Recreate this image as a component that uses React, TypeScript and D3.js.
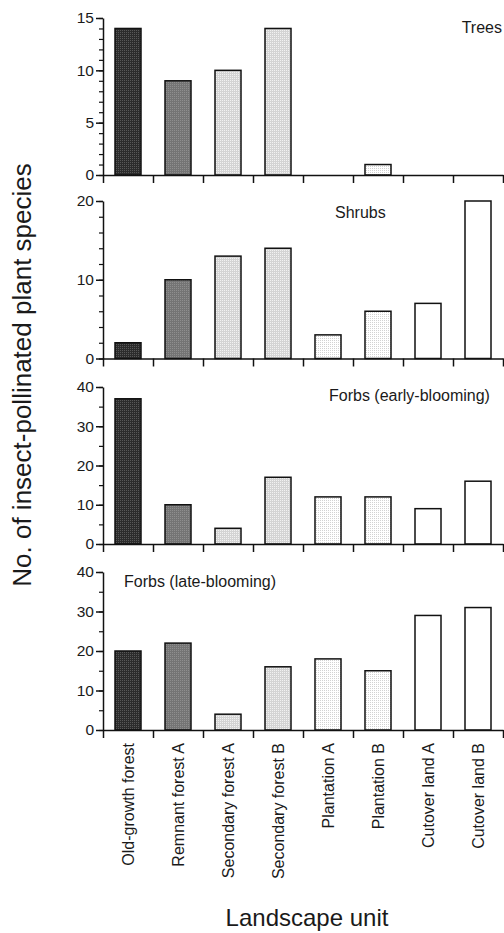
import React, { useEffect, useRef } from 'react'
import * as d3 from 'd3'

const categories = [
  'Old-growth forest',
  'Remnant forest A',
  'Secondary forest A',
  'Secondary forest B',
  'Plantation A',
  'Plantation B',
  'Cutover land A',
  'Cutover land B',
]

const trees = [14, 9, 10, 14, 0, 1, 0, 0]
const shrubs = [2, 10, 13, 14, 3, 6, 7, 20]
const forbsEarly = [37, 10, 4, 17, 12, 12, 9, 16]
const forbsLate = [20, 22, 4, 16, 18, 15, 29, 31]

const panelNames = ['Trees', 'Shrubs', 'Forbs (early-blooming)', 'Forbs (late-blooming)']
const yMax = [15, 20, 40, 40]
const yMajor = [5, 10, 10, 10]
const yMinor = [1, 2, 5, 5]

// fill per landscape unit
const fills = ['url(#p-dark)', 'url(#p-mid)', 'url(#p-light)', 'url(#p-light)', 'url(#p-dots)', 'url(#p-dots)', '#fff', '#fff']

const FONT = '"Liberation Sans", Arial, sans-serif'

function App() {
  const svgRef = useRef<SVGSVGElement>(null)

  useEffect(() => {
    const width = 504
    const height = 933
    const left = 103
    const right = 503
    const series = [trees, shrubs, forbsEarly, forbsLate]
    // panel frames: bottom and top of each y range
    const frames = [
      { base: 175, top: 18, label: [502, 33, 'end'] },
      { base: 358.5, top: 201, label: [335, 218, 'start'] },
      { base: 544, top: 387, label: [329, 401, 'start'] },
      { base: 730, top: 572, label: [124, 587, 'start'] },
    ]

    const svg = d3.select(svgRef.current)
    svg.selectAll('*').remove()
    svg.attr('width', width).attr('height', height)

    const defs = svg.append('defs')
    const pat = (id: string, size: number, bg: string, fg: string, cells: number[][]) => {
      const p = defs.append('pattern')
        .attr('id', id)
        .attr('patternUnits', 'userSpaceOnUse')
        .attr('width', size)
        .attr('height', size)
      p.append('rect').attr('width', size).attr('height', size).attr('fill', bg)
      cells.forEach(([cx, cy]) => {
        p.append('rect').attr('x', cx).attr('y', cy).attr('width', 1).attr('height', 1).attr('fill', fg)
      })
    }
    pat('p-dark', 2, '#2c2c2c', '#585858', [[0, 0]])
    pat('p-mid', 2, '#747474', '#8e8e8e', [[0, 0]])
    pat('p-light', 2, '#d4d4d4', '#f2f2f2', [[0, 0]])
    pat('p-dots', 2, '#ffffff', '#d2d2d2', [[0, 0]])

    const x = d3.scaleBand<string>()
      .domain(categories)
      .range([left, right])
      .paddingInner(0.48)
      .paddingOuter(0.24)

    const xTicks = d3.scaleLinear().domain([0, categories.length]).range([left, right])

    series.forEach((values, i) => {
      const f = frames[i]
      const y = d3.scaleLinear().domain([0, yMax[i]]).range([f.base, f.top])
      const g = svg.append('g')

      g.selectAll('rect.bar')
        .data(values)
        .join('rect')
        .attr('class', 'bar')
        .attr('x', (_, j) => x(categories[j]) as number)
        .attr('width', x.bandwidth())
        .attr('y', (d) => y(d))
        .attr('height', (d) => f.base - y(d))
        .attr('fill', (_, j) => fills[j])
        .attr('stroke', '#111')
        .attr('stroke-width', 1.5)
        .attr('display', (d) => (d === 0 ? 'none' : null))

      // minor y ticks
      g.append('g')
        .attr('transform', `translate(${left},0)`)
        .call(d3.axisLeft(y).tickValues(d3.range(0, yMax[i] + 0.001, yMinor[i])).tickSize(4).tickFormat(() => '').tickSizeOuter(0))
        .call((a) => a.selectAll('line').attr('stroke', '#111').attr('stroke-width', 1.2))
        .call((a) => a.select('.domain').remove())

      // major y ticks
      g.append('g')
        .attr('transform', `translate(${left},0)`)
        .call(d3.axisLeft(y).tickValues(d3.range(0, yMax[i] + 0.001, yMajor[i])).tickSize(7).tickPadding(2).tickSizeOuter(0))
        .call((a) => a.select('.domain').attr('stroke', '#111').attr('stroke-width', 1.5))
        .call((a) => a.selectAll('line').attr('stroke', '#111').attr('stroke-width', 1.5))
        .call((a) => a.selectAll('text').attr('font-family', FONT).attr('font-size', 15.5).attr('fill', '#1a1a1a'))

      // x axis with boundary ticks
      g.append('g')
        .attr('transform', `translate(0,${f.base})`)
        .call(d3.axisBottom(xTicks).tickValues(d3.range(0, categories.length + 1)).tickSize(8).tickFormat(() => '').tickSizeOuter(0))
        .call((a) => a.select('.domain').attr('stroke', '#111').attr('stroke-width', 1.5))
        .call((a) => a.selectAll('line').attr('stroke', '#111').attr('stroke-width', 1.5))

      g.append('text')
        .attr('x', f.label[0] as number)
        .attr('y', f.label[1] as number)
        .attr('text-anchor', f.label[2] as string)
        .attr('font-family', FONT)
        .attr('font-size', 16)
        .attr('fill', '#1a1a1a')
        .text(panelNames[i])
    })

    // category labels under the last panel
    svg.append('g')
      .selectAll('text')
      .data(categories)
      .join('text')
      .attr('transform', (d) => `translate(${(x(d) as number) + x.bandwidth() / 2 + 6},743) rotate(-90)`)
      .attr('text-anchor', 'end')
      .attr('font-family', FONT)
      .attr('font-size', 16)
      .attr('fill', '#1a1a1a')
      .text((d) => d)

    svg.append('text')
      .attr('x', 307)
      .attr('y', 926)
      .attr('text-anchor', 'middle')
      .attr('font-family', FONT)
      .attr('font-size', 24)
      .attr('fill', '#1a1a1a')
      .text('Landscape unit')

    svg.append('text')
      .attr('transform', 'translate(31,375) rotate(-90)')
      .attr('text-anchor', 'middle')
      .attr('font-family', FONT)
      .attr('font-size', 26)
      .attr('fill', '#1a1a1a')
      .text('No. of insect-pollinated plant species')
  }, [])

  return (
    <div style={{ position: 'absolute', left: 0, top: 0 }}>
      <svg ref={svgRef} style={{ display: 'block', background: '#fff' }}></svg>
    </div>
  )
}

export default App
